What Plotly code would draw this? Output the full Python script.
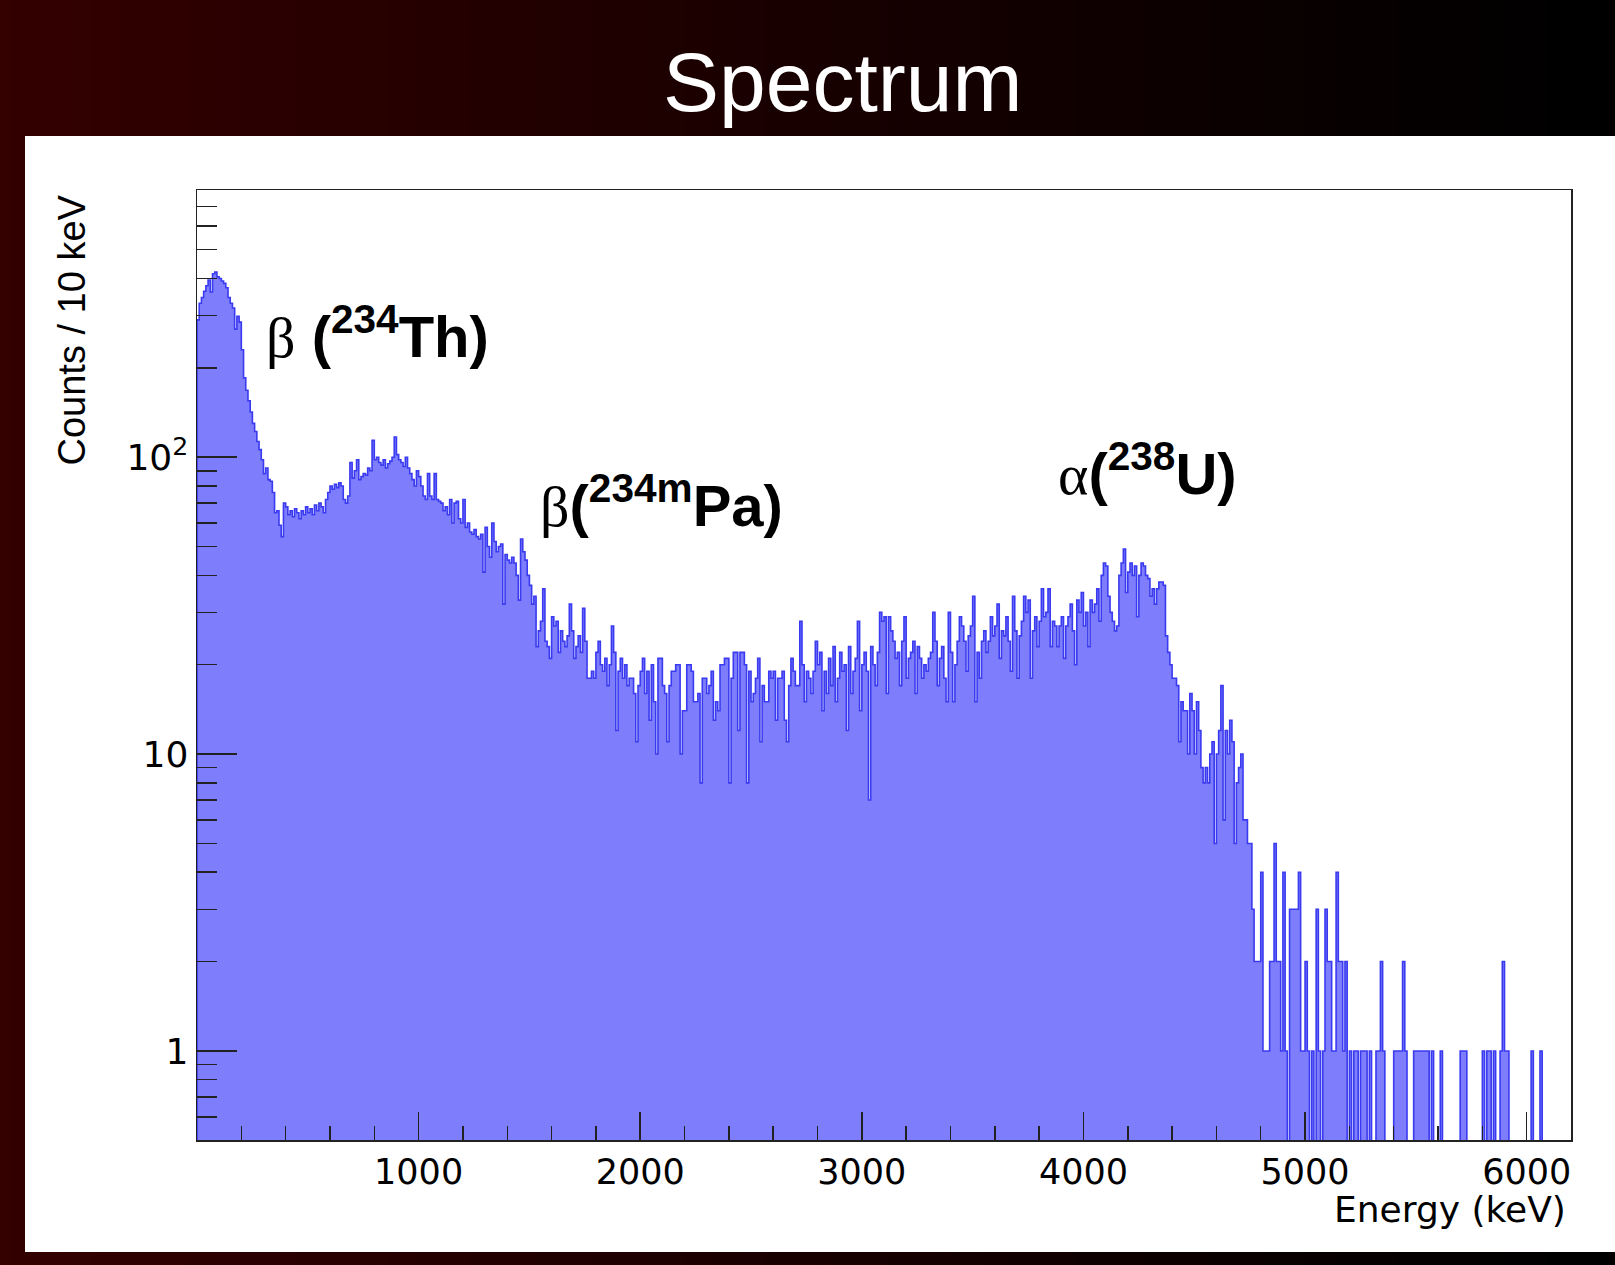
import plotly.graph_objects as go

# ---------------- data (counts per 10 keV bin, 0 .. 6200 keV) ----------------
bin_width_kev = 10
counts = [
    290, 330, 345, 362, 378, 395, 360, 415, 420, 405,
    400, 392, 385, 372, 345, 330, 318, 270, 298, 285,
    230, 185, 168, 155, 142, 130, 122, 113, 106, 98,
    88, 92, 84, 83, 76, 65, 66, 59, 54, 70,
    68, 64, 66, 63, 67, 65, 62, 66, 64, 68,
    65, 67, 64, 69, 66, 70, 68, 65, 72, 76,
    80, 78, 81, 79, 82, 80, 72, 70, 74, 96,
    85, 90, 98, 84, 86, 88, 87, 92, 90, 114,
    98, 100, 96, 94, 98, 92, 95, 97, 100, 117,
    102, 98, 96, 93, 100, 92, 88, 84, 80, 90,
    86, 80, 74, 72, 88, 74, 72, 88, 72, 71,
    70, 66, 68, 64, 72, 60, 70, 71, 62, 60,
    72, 58, 60, 56, 55, 57, 54, 53, 55, 41,
    58, 50, 46, 60, 52, 48, 50, 51, 32, 47,
    45, 44, 46, 44, 40, 33, 53, 48, 45, 40,
    37, 32, 34, 23, 26, 28, 36, 24, 23, 21,
    29, 27, 28, 22, 26, 24, 23, 25, 32, 26,
    21, 23, 25, 22, 31, 24, 18, 18, 19, 18,
    22, 24, 20, 19, 21, 17, 20, 27, 22, 12,
    19, 21, 18, 20, 17, 18, 18, 16, 11, 17,
    19, 21, 16, 19, 13, 20, 15, 10, 21, 21,
    17, 16, 11, 17, 19, 19, 20, 20, 10, 14,
    14, 20, 20, 19, 15, 15, 16, 8, 18, 18,
    16, 17, 19, 13, 15, 14, 20, 20, 21, 21,
    8, 18, 22, 22, 12, 22, 22, 20, 8, 19,
    15, 16, 18, 21, 11, 17, 15, 15, 19, 18,
    19, 13, 18, 18, 19, 13, 11, 17, 21, 19,
    17, 17, 28, 20, 15, 19, 18, 16, 19, 24,
    20, 22, 14, 19, 16, 21, 17, 23, 15, 18,
    22, 19, 20, 12, 23, 16, 19, 21, 28, 14,
    20, 22, 19, 7, 23, 20, 17, 22, 30, 28,
    29, 16, 29, 26, 24, 21, 22, 17, 24, 29,
    18, 21, 22, 24, 16, 23, 21, 18, 20, 19,
    21, 22, 30, 24, 17, 21, 23, 18, 15, 30,
    22, 15, 20, 24, 29, 27, 24, 19, 25, 27,
    34, 15, 22, 18, 24, 26, 22, 24, 29, 25,
    27, 32, 21, 26, 25, 29, 24, 19, 34, 26,
    18, 25, 28, 34, 30, 33, 18, 26, 29, 23,
    28, 36, 29, 30, 36, 23, 28, 27, 23, 27,
    29, 21, 27, 29, 32, 26, 20, 33, 30, 35,
    27, 30, 23, 33, 30, 32, 36, 28, 40, 44,
    43, 34, 30, 28, 26, 27, 40, 44, 49, 35,
    41, 44, 40, 43, 29, 40, 44, 43, 40, 39,
    34, 36, 32, 36, 38, 38, 37, 25, 22, 20,
    18, 18, 17, 11, 15, 14, 14, 10, 16, 14,
    10, 15, 12, 9, 8, 9, 8, 10, 11, 5,
    10, 12, 17, 6, 12, 10, 13, 11, 5, 8,
    9, 10, 6, 6, 5, 5, 3, 2, 2, 2,
    4, 1, 1, 1, 2, 2, 5, 2, 2, 1,
    4, 1, 0, 3, 3, 3, 3, 4, 1, 1,
    2, 1, 0, 1, 0, 3, 1, 0, 1, 3,
    2, 2, 1, 1, 4, 2, 2, 1, 2, 0,
    1, 0, 1, 1, 0, 1, 1, 1, 0, 1,
    0, 0, 1, 1, 2, 1, 0, 0, 0, 0,
    1, 1, 1, 1, 2, 1, 0, 0, 0, 1,
    1, 1, 1, 1, 1, 1, 0, 1, 0, 0,
    0, 1, 0, 0, 0, 0, 0, 0, 0, 0,
    1, 1, 1, 0, 0, 0, 0, 0, 0, 0,
    1, 0, 1, 1, 0, 1, 0, 0, 1, 2,
    1, 1, 0, 0, 0, 0, 0, 0, 0, 0,
    0, 0, 1, 0, 0, 0, 1, 0, 0, 0,
    0, 0, 0, 0, 0, 0, 0, 0, 0, 0,
]

y_major_vals = [1, 10, 100]
y_major_text = ["1", "10", "10<sup>2</sup>"]
y_minor_vals = [0.6, 0.7, 0.8, 0.9, 2, 3, 4, 5, 6, 7, 8, 9,
                20, 30, 40, 50, 60, 70, 80, 90, 200, 300, 400, 500, 600, 700]
x_major_vals = [1000, 2000, 3000, 4000, 5000, 6000]
x_minor_vals = [200, 400, 600, 800, 1200, 1400, 1600, 1800, 2200, 2400, 2600, 2800,
                3200, 3400, 3600, 3800, 4200, 4400, 4600, 4800, 5200, 5400, 5600, 5800, 6200]

title_text = "Spectrum"
x_title = "Energy (keV)"
y_title = "Counts / 10 keV"
labels = [
    "<span style='font-family:Liberation Serif;font-weight:normal'>β</span><b> (<sup>234</sup>Th)</b>",
    "<span style='font-family:Liberation Serif;font-weight:normal'>β</span><b>(<sup>234m</sup>Pa)</b>",
    "<span style='font-family:Liberation Serif;font-weight:normal'>α</span><b>(<sup>238</sup>U)</b>",
]

# ---------------- geometry ----------------
W, H = 1615, 1265
L, R, T, B = 197, 1571, 190, 1140
x_range = [0, 6200]
y_range_log = [-0.3, 2.9]


def px(x):
    return (x - L) / (R - L)


def py(y):
    return (B - y) / (B - T)


# histogram outline (step path), zero bins drop below the axis floor
floor = 0.01
nb = len(counts)
xs = [0.0]
ys = [floor]
for i, c in enumerate(counts):
    xs.append(i * bin_width_kev)
    ys.append(c if c > 0 else floor)
xs.append(nb * bin_width_kev)
ys.append(counts[-1] if counts[-1] > 0 else floor)
xs.append(nb * bin_width_kev)
ys.append(floor)

fig = go.Figure()
fig.add_trace(go.Scatter(
    x=xs, y=ys, mode="lines", line_shape="hv",
    line=dict(color="rgb(58,58,240)", width=1.6),
    fill="toself", fillcolor="rgb(126,126,252)",
    hoverinfo="skip", showlegend=False,
))

# ---------------- background: dark red gradient + white panel ----------------
shapes = []
n_strip = 120
for k in range(n_strip):
    x0 = W * k / n_strip
    x1 = W * (k + 1) / n_strip + 1
    t = (k + 0.5) / n_strip
    r = int(round(52 * (1 - t) ** 1.1))
    shapes.append(dict(type="rect", xref="paper", yref="paper",
                       x0=px(x0 - 1), x1=px(x1), y0=py(H + 2), y1=py(-2),
                       fillcolor=f"rgb({r},0,0)", line=dict(width=0), layer="below"))
shapes.append(dict(type="rect", xref="paper", yref="paper",
                   x0=px(25), x1=px(W + 2), y0=py(1252), y1=py(136),
                   fillcolor="white", line=dict(width=0), layer="below"))

annotations = [
    dict(text=title_text, xref="paper", yref="paper", x=px(842), y=py(82),
         xanchor="center", yanchor="middle", showarrow=False,
         font=dict(family="Liberation Sans", size=84, color="white")),
    dict(text=x_title, xref="paper", yref="paper", x=px(1568), y=py(1209),
         xanchor="right", yanchor="middle", showarrow=False,
         font=dict(family="DejaVu Sans", size=36, color="black")),
    dict(text=y_title, xref="paper", yref="paper", x=px(71), y=py(192),
         xanchor="center", yanchor="top", textangle=-90, showarrow=False,
         font=dict(family="Liberation Sans", size=38, color="black")),
    dict(text=labels[0], xref="paper", yref="paper", x=px(264), y=py(333),
         xanchor="left", yanchor="middle", showarrow=False,
         font=dict(family="Liberation Sans", size=58, color="black")),
    dict(text=labels[1], xref="paper", yref="paper", x=px(538), y=py(502),
         xanchor="left", yanchor="middle", showarrow=False,
         font=dict(family="Liberation Sans", size=58, color="black")),
    dict(text=labels[2], xref="paper", yref="paper", x=px(1056), y=py(470),
         xanchor="left", yanchor="middle", showarrow=False,
         font=dict(family="Liberation Sans", size=58, color="black")),
]

fig.update_layout(
    width=W, height=H, autosize=False,
    margin=dict(l=L, r=W - R, t=T, b=H - B, pad=0),
    paper_bgcolor="black", plot_bgcolor="white",
    shapes=shapes, annotations=annotations,
    showlegend=False,
)
fig.update_xaxes(
    range=x_range, showgrid=False, zeroline=False,
    showline=True, linecolor="#222", linewidth=1.5, mirror=True,
    ticks="inside", ticklen=28, tickwidth=1.5, tickcolor="#222",
    tickmode="array", tickvals=x_major_vals,
    ticktext=[str(v) for v in x_major_vals],
    tickfont=dict(family="DejaVu Sans", size=35, color="black"),
    minor=dict(tickmode="array", tickvals=x_minor_vals, ticks="inside",
               ticklen=14, tickwidth=1.5, tickcolor="#222", showgrid=False),
    layer="above traces",
)
fig.update_yaxes(
    type="log", range=y_range_log, showgrid=False, zeroline=False,
    showline=True, linecolor="#222", linewidth=1.5, mirror=True,
    ticks="inside", ticklen=40, tickwidth=1.5, tickcolor="#222",
    tickmode="array", tickvals=y_major_vals, ticktext=y_major_text,
    tickfont=dict(family="DejaVu Sans", size=36, color="black"),
    minor=dict(tickmode="array", tickvals=y_minor_vals, ticks="inside",
               ticklen=20, tickwidth=1.5, tickcolor="#222", showgrid=False),
    layer="above traces",
)

page_fix = ("document.body.style.margin='0px';document.body.style.padding='0px';"
            "document.body.style.overflow='hidden';document.body.style.background='black';")
fig.write_html("out.html", post_script=page_fix,
               config={"displayModeBar": False, "staticPlot": True})
